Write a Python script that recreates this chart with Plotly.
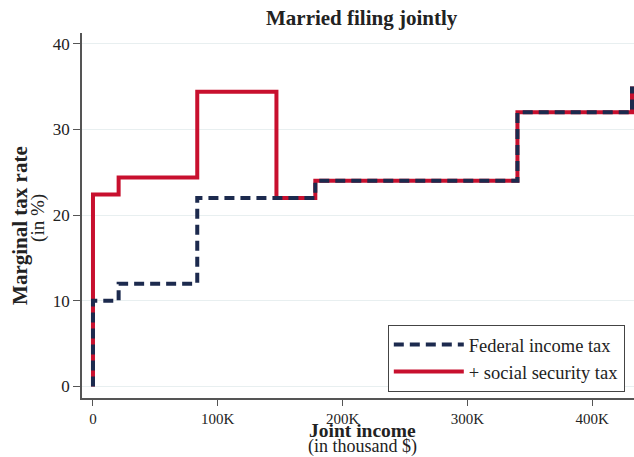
import plotly.graph_objects as go

# 2022 federal brackets, married filing jointly (income in $, rates in %)
fed_income = [0, 0, 20550, 83550, 178150, 340100, 431900]
fed_rate = [0, 10, 12, 22, 24, 32, 35]

# Federal + 12.4% social security tax up to the wage base (147,000)
combined_income = [0, 0, 20550, 83550, 147000, 178150, 340100, 431900]
combined_rate = [0, 22.4, 24.4, 34.4, 22, 24, 32, 35]

x_tickvals = [0, 100000, 200000, 300000, 400000]
x_ticktext = ["0", "100K", "200K", "300K", "400K"]
y_tickvals = [0, 10, 20, 30, 40]

NAVY = "#1c2a4e"
RED = "#c8102e"
SERIF = "Liberation Serif, Times New Roman, serif"

fig = go.Figure()

fig.add_trace(go.Scatter(
    x=combined_income, y=combined_rate, mode="lines", line_shape="hv",
    name="+ social security tax",
    line=dict(color=RED, width=4),
))
fig.add_trace(go.Scatter(
    x=fed_income, y=fed_rate, mode="lines", line_shape="hv",
    name="Federal income tax",
    line=dict(color=NAVY, width=4, dash="10px,6px"),
))

fig.update_layout(
    width=634, height=457,
    margin=dict(l=82, r=0, t=33, b=59),
    paper_bgcolor="white", plot_bgcolor="white",
    font=dict(family=SERIF, color="#222222"),
    showlegend=True,
    legend=dict(
        traceorder="reversed",
        x=0.554, y=0.0164, xanchor="left", yanchor="bottom",
        bgcolor="white", bordercolor="#444444", borderwidth=1,
        font=dict(size=18.5, family=SERIF, color="#222222"),
        itemwidth=70,
        tracegroupgap=0,
    ),
    xaxis=dict(
        range=[-8800, 433500],
        tickvals=x_tickvals, ticktext=x_ticktext,
        showgrid=False, zeroline=False,
        showline=True, linecolor="#555555", linewidth=1.5,
        ticks="outside", ticklen=6, tickcolor="#555555", tickwidth=1.2,
        tickfont=dict(size=15, family=SERIF, color="#222222"),
    ),
    yaxis=dict(
        range=[-1.34, 41.25],
        tickvals=y_tickvals,
        showgrid=True, gridcolor="#e8eff0", gridwidth=1,
        zeroline=False,
        showline=True, linecolor="#555555", linewidth=1.5,
        ticks="outside", ticklen=7, tickcolor="#555555", tickwidth=1.2,
        tickfont=dict(size=17, family=SERIF, color="#222222"),
    ),
)

annotations = [
    dict(text="<b>Married filing jointly</b>", x=0.507, y=1.041,
         font=dict(size=21)),
    dict(text="<b>Joint income</b>", x=0.509, y=-0.088, font=dict(size=19.5)),
    dict(text="(in thousand $)", x=0.508, y=-0.134, font=dict(size=18)),
    dict(text="<b>Marginal tax rate</b>", x=-0.1125, y=0.474,
         textangle=-90, font=dict(size=21)),
    dict(text="(in %)", x=-0.0800, y=0.493, textangle=-90, font=dict(size=19)),
]
for a in annotations:
    fig.add_annotation(
        xref="paper", yref="paper", showarrow=False,
        xanchor="center", yanchor="middle",
        **a,
    )

fig.write_html("out.html")
